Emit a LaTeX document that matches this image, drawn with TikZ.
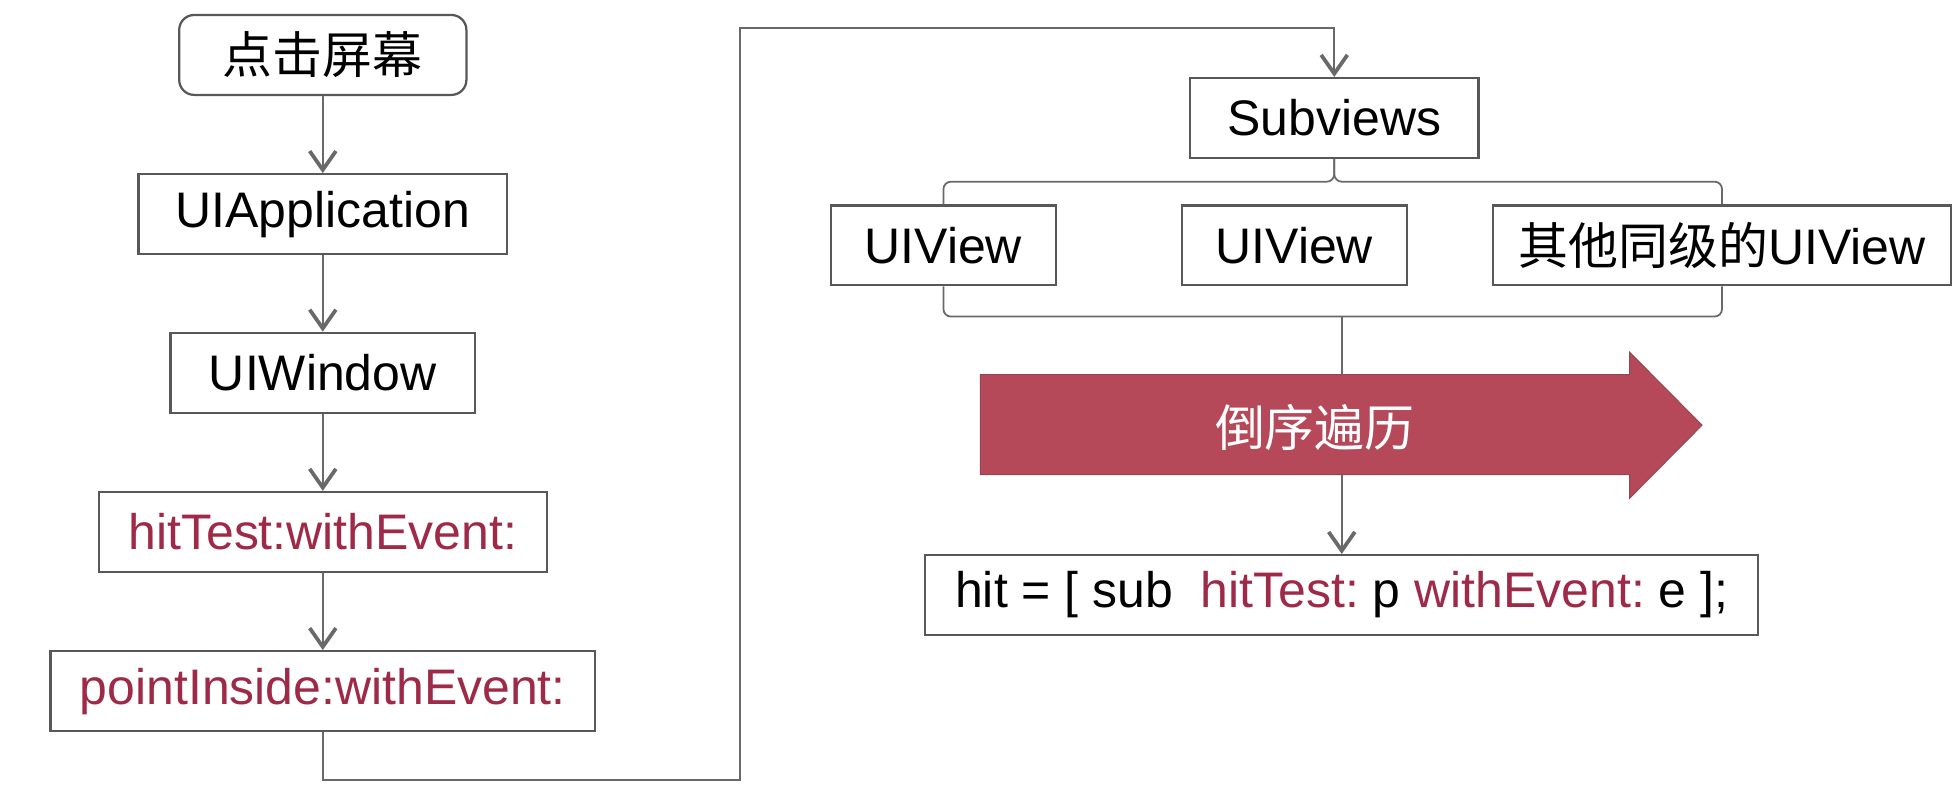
\documentclass[tikz,border=0pt]{standalone}
\usepackage{fontspec}
\setmainfont{Liberation Sans}
\newfontfamily\cjk{Noto Sans CJK SC}
\usetikzlibrary{arrows.meta}
\definecolor{boxline}{RGB}{88,88,88}
\definecolor{connline}{RGB}{105,105,105}
\definecolor{methred}{RGB}{158,42,72}
\definecolor{arrowfill}{RGB}{181,73,89}
\definecolor{arrowedge}{RGB}{150,70,80}
\begin{document}
\frenchspacing
\begin{tikzpicture}[x=1pt,y=-1pt,
  box/.style={draw=boxline, line width=1.8pt, fill=white, inner sep=0pt, minimum height=64pt, font=\fontsize{40}{48}\selectfont\frenchspacing, text=black},
  meth/.style={box, text=methred},
  conn/.style={draw=connline, line width=1.4pt},
  tipv/.style={-{Straight Barb[length=15pt,width=21pt,line width=3pt]}}
]
\fill[white] (0,0) rectangle (1568,642);
\useasboundingbox (0,0) rectangle (1568,642);

% left column
\node[box, rounded corners=12pt, minimum width=230pt] (tap) at (258.5,44) {\cjk 点击屏幕};
\node[box, minimum width=295pt] (app) at (258.5,171.5) {UIApplication};
\node[box, minimum width=244pt] (win) at (258.5,298.5) {UIWindow};
\node[meth, minimum width=359pt] (hit) at (258.5,426) {hitTest:withEvent:};
\node[meth, minimum width=436pt] (pin) at (258.5,553.5) {pointInside:withEvent:};

% right part
\node[box, minimum width=231pt] (sub) at (1068.5,94.5) {Subviews};
\node[box, minimum width=180pt] (v1) at (755.5,196.5) {UIView};
\node[box, minimum width=180pt] (v2) at (1036.5,196.5) {UIView};
\node[box, minimum width=367pt] (v3) at (1379,196.5) {{\cjk 其他同级的}UIView};
\node[box, minimum width=667pt] (call) at (1074.5,476.5) {hit = [ sub\ \ {\color{methred}hitTest:} p {\color{methred}withEvent:} e ];};

% left connectors
\draw[conn, tipv] (tap.south) -- (app.north);
\draw[conn, tipv] (app.south) -- (win.north);
\draw[conn, tipv] (win.south) -- (hit.north);
\draw[conn, tipv] (hit.south) -- (pin.north);

% long connector
\coordinate (turnA) at (592.5,624.5);
\coordinate (turnB) at (592.5,22.7);
\draw[conn, tipv] (pin.south) |- (turnA) -- (turnB) -| (sub.north);

% brace
\coordinate (bj) at (1068.5,145.5);
\draw[conn, rounded corners=6pt] (v1.north) |- (bj) -- (sub.south);
\draw[conn, rounded corners=6pt] (v3.north) |- (bj) -- (sub.south);

% lower bracket
\coordinate (lj) at (1074.5,253.5);
\draw[conn, rounded corners=6pt] (v1.south) |- (v3.south |- lj) -- (v3.south);
\draw[conn, tipv] (lj) -- (call.north);

% red arrow
\filldraw[fill=arrowfill, draw=arrowedge, line width=0.8pt]
  (785,300) -- (1305,300) -- (1305,282) -- (1363,340.5) -- (1305,399) -- (1305,380) -- (785,380) -- cycle;
\node[text=white, font=\fontsize{40}{48}\selectfont] (rev) at (1053,342) {\cjk 倒序遍历};
\end{tikzpicture}
\end{document}
